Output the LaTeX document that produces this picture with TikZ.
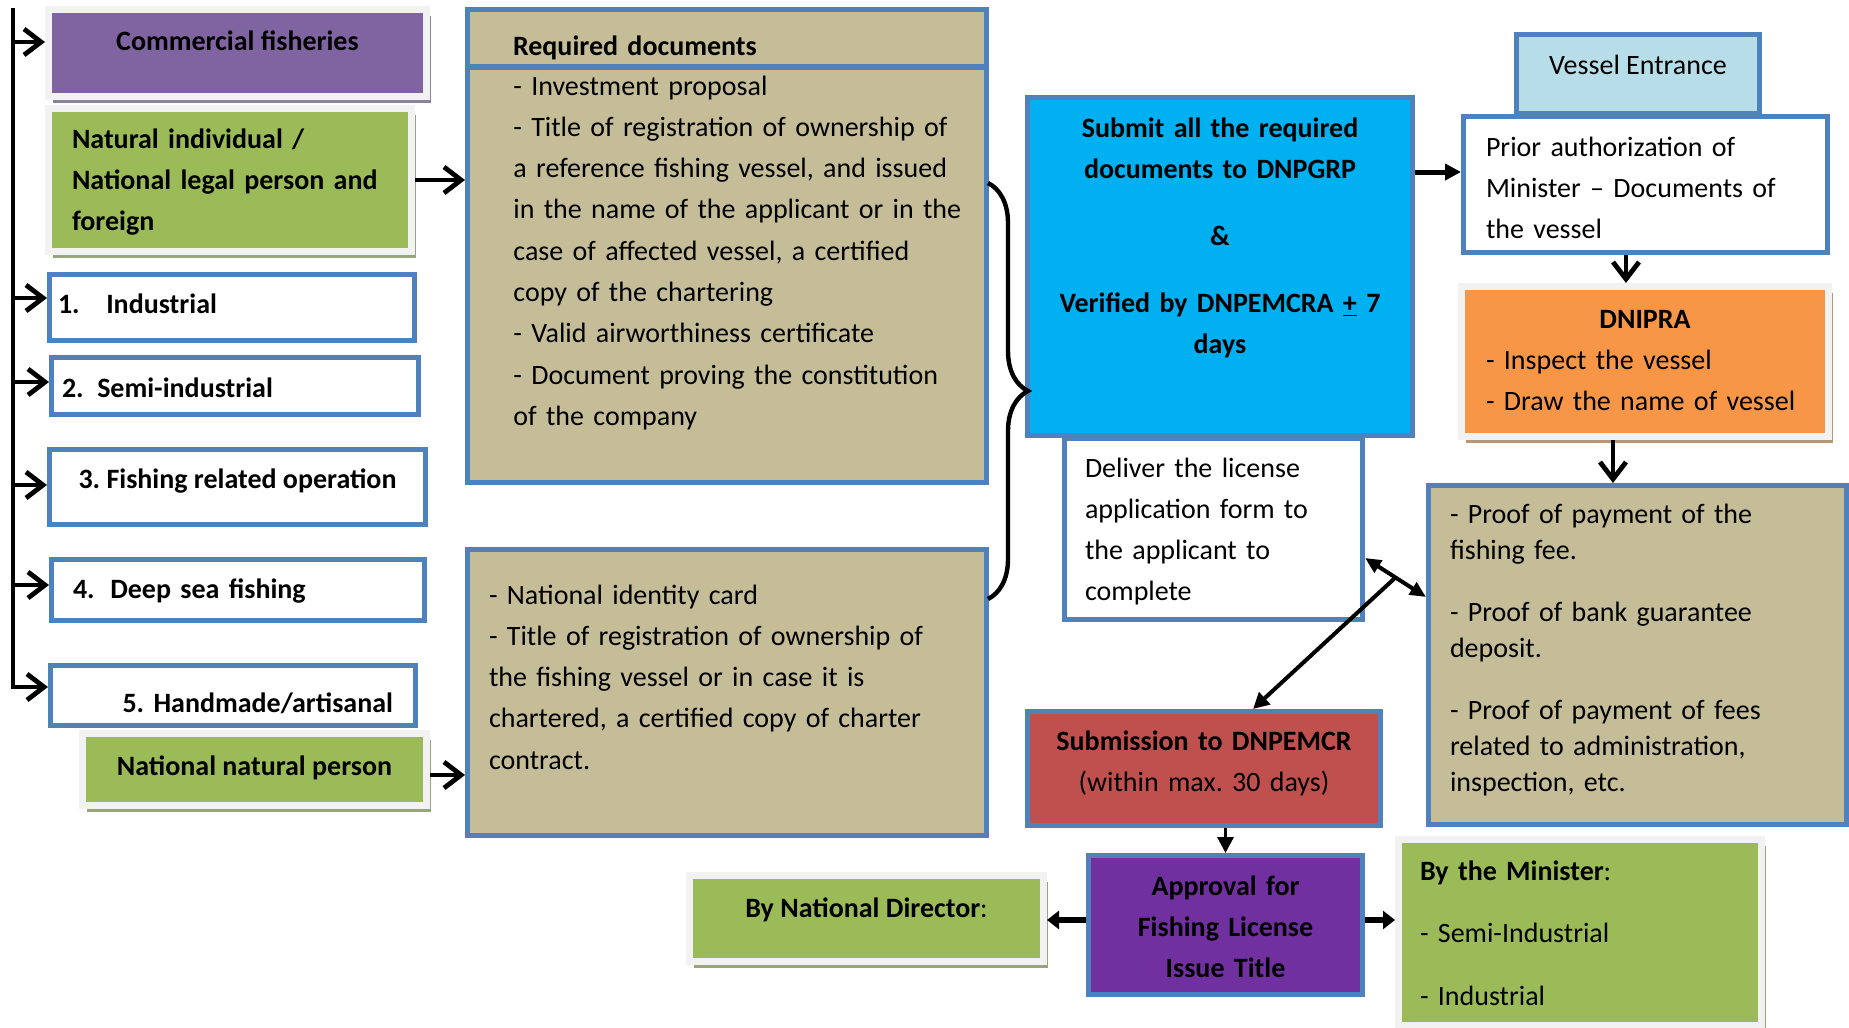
\documentclass[tikz,border=0pt]{standalone}
\usepackage{fontspec}
\setmainfont{Carlito}
\frenchspacing
\usetikzlibrary{positioning, calc, arrows.meta, shadows, decorations.pathreplacing}

\definecolor{boxblue}{HTML}{4F81BD}
\definecolor{tan}{HTML}{C4BD97}
\definecolor{cyanblue}{HTML}{00B0F0}
\definecolor{paleblue}{HTML}{B7DEE8}
\definecolor{leafgreen}{HTML}{9BBB59}
\definecolor{lilac}{HTML}{8064A2}
\definecolor{deeppurple}{HTML}{7030A0}
\definecolor{brick}{HTML}{C0504D}
\definecolor{carrot}{HTML}{F79646}
\definecolor{framegrey}{HTML}{F2F2F2}

\tikzset{
  every node/.style={font=\fontsize{14}{20.65}\selectfont},
  boldtext/.style={font=\fontsize{14}{20.65}\selectfont\bfseries},
  docbox/.style={draw=boxblue, line width=2.4pt, anchor=north west, inner ysep=0pt},
  softbox/.style={fill=#1, draw=framegrey, line width=3.5pt, anchor=north west, inner ysep=0pt,
    drop shadow={shadow xshift=2pt, shadow yshift=-3pt, fill=#1!45!gray, opacity=0.9}},
  pointer/.style={line width=2.4pt, -{Straight Barb[length=8.5pt, width=13pt]}},
  feed/.style={line width=2.5pt, -{Triangle[length=8pt, width=8pt]}},
  push/.style={line width=3pt, -{Triangle[length=6pt, width=9pt]}},
  twoway/.style={line width=2pt, {Triangle[length=8pt, width=7pt]}-{Triangle[length=8pt, width=7pt]}},
  curlybrace/.style={line width=2.2pt, decorate, decoration={brace, amplitude=20pt}}
}

\begin{document}
\begin{tikzpicture}[x=0.5pt, y=-0.5pt]
    \useasboundingbox (0,0) rectangle (1849,1028);

    %Left column
    \node[softbox=lilac, boldtext, minimum width=189pt, text height=20.25pt, text depth=23.25pt] (comm) at (45,6) {Commercial fisheries};
    \node[softbox=leafgreen, boldtext, align=left, inner xsep=11.75pt, text width=158pt, text height=19.75pt, text depth=51.75pt] (natind) at (45,105) {Natural individual /\\National legal person and\\foreign};
    \node[docbox, fill=white, boldtext, align=left, inner xsep=4.3pt, text width=174pt, text height=19.3pt, text depth=13.8pt] (ind) at (47,272) {1.\hspace{13.3pt}Industrial};
    \node[docbox, fill=white, boldtext, align=left, inner xsep=5.3pt, text width=173pt, text height=19.8pt, text depth=8.8pt] (semi) at (49,355) {2.\hspace{6.8pt}Semi-industrial};
    \node[docbox, fill=white, boldtext, minimum width=188.1pt, text height=19.3pt, text depth=18.3pt] (fish) at (47,447) {3. Fishing related operation};
    \node[docbox, fill=white, boldtext, align=left, inner xsep=10.8pt, text width=165pt, text height=19.3pt, text depth=11.3pt] (deep) at (49,557) {4.\hspace{7.8pt}Deep sea fishing};
    \node[docbox, fill=white, boldtext, align=right, inner xsep=11.3pt, text width=160pt, text height=23.3pt, text depth=6.8pt] (hand) at (48,663) {5. Handmade/artisanal};
    \node[softbox=leafgreen, boldtext, minimum width=172pt, text height=20.75pt, text depth=15.25pt] (natper) at (79,730) {National natural person};

    %Documents
    \node[docbox, fill=tan, minimum width=259.6pt, minimum height=207.6pt, inner sep=0pt] (reqbody) at (465,65) {};
    \node[docbox, fill=tan, boldtext, align=left, inner xsep=22.8pt, text width=214pt, text height=22.8pt, text depth=5.8pt] (reqhead) at (465,7) {Required documents};
    \node[align=left, text width=232pt, inner sep=0pt, anchor=base west] (reqlist) at (513,95) {- Investment proposal\\- Title of registration of ownership of\\a reference fishing vessel, and issued\\in the name of the applicant or in the\\case of affected vessel, a certified\\copy of the chartering\\- Valid airworthiness certificate\\- Document proving the constitution\\of the company};
    \node[docbox, fill=tan, align=left, inner xsep=10.8pt, text width=238pt, text height=27.3pt, text depth=115.8pt] (natdocs) at (465,547) {- National identity card\\- Title of registration of ownership of\\the fishing vessel or in case it is\\chartered, a certified copy of charter\\contract.};

    %Procedure
    \node[docbox, fill=white, align=left, inner xsep=10.3pt, text width=128.5pt, text height=19.3pt, text depth=71.3pt] (deliver) at (1062,436) {Deliver the license\\application form to\\the applicant to\\complete};
    \node[docbox, fill=cyanblue, boldtext, align=center, inner xsep=4pt, text width=184.6pt, text height=19.8pt, text depth=149.3pt] (submit) at (1025,95) {Submit all the required\\documents to DNPGRP\\[12.9pt]\&\\[12.9pt]Verified by DNPEMCRA \underline{+} 7\\days};
    \node[docbox, fill=brick, align=center, inner xsep=4pt, text width=168.6pt, text height=19.3pt, text depth=37.8pt] (subm) at (1025,709) {\textbf{Submission to DNPEMCR}\\(within max. 30 days)};
    \node[docbox, fill=deeppurple, boldtext, align=center, inner xsep=4pt, text width=129.1pt, text height=19.8pt, text depth=49.8pt] (approval) at (1086,853) {Approval for\\Fishing License\\Issue Title};
    \node[softbox=leafgreen, minimum width=177pt, text height=20.75pt, text depth=22.25pt] (director) at (686,872) {\textbf{By National Director}:};
    \node[softbox=leafgreen, align=left, inner xsep=10.75pt, text width=160pt, text height=20.25pt, text depth=72.75pt] (minister) at (1395,836) {\textbf{By the Minister}:\\[10.6pt]- Semi-Industrial\\[10.6pt]- Industrial};

    %Vessel
    \node[docbox, fill=paleblue, minimum width=121.6pt, text height=20.3pt, text depth=19.3pt] (vessel) at (1514,32) {Vessel Entrance};
    \node[docbox, fill=white, align=left, inner xsep=11.3pt, text width=159.5pt, text height=19.8pt, text depth=48.3pt] (prior) at (1461,114) {Prior authorization of\\Minister -- Documents of\\the vessel};
    \node[softbox=carrot, align=left, inner xsep=12.25pt, text width=159pt, text height=20.75pt, text depth=54.25pt] (dnipra) at (1458,283) {\makebox[\linewidth]{\textbf{DNIPRA}}\\- Inspect the vessel\\- Draw the name of vessel};
    \node[docbox, fill=tan, align=left, inner xsep=10.8pt, text width=187.5pt, text height=18.8pt, text depth=150.8pt, font=\fontsize{14}{18}\selectfont] (fees) at (1426,483) {- Proof of payment of the\\fishing fee.\\[13pt]- Proof of bank guarantee\\deposit.\\[13pt]- Proof of payment of fees\\related to administration,\\inspection, etc.};

    %Lines
    \coordinate (trunktop) at (13,8);
    \draw[pointer] (trunktop) |- ([yshift=4.25pt]hand.west);
    \draw[pointer] ([yshift=5.5pt]comm.west -| trunktop) -- ([yshift=5.5pt]comm.west);
    \draw[pointer] ([yshift=4.75pt]ind.west -| trunktop) -- ([yshift=4.75pt]ind.west);
    \draw[pointer] ([yshift=2pt]semi.west -| trunktop) -- ([yshift=2pt]semi.west);
    \draw[pointer] ([yshift=1pt]fish.west -| trunktop) -- ([yshift=1pt]fish.west);
    \draw[pointer] ([yshift=2.5pt]deep.west -| trunktop) -- ([yshift=2.5pt]deep.west);
    \draw[pointer] (natind.east) -- (natind.east -| reqbody.west);
    \draw[pointer] ([yshift=-2.75pt]natper.east) -- ([yshift=-2.75pt]natper.east -| natdocs.west);

    \coordinate (bracetop) at (988,183);
    \coordinate (bracebot) at (988,599);
    \draw[curlybrace] (bracetop) -- (bracebot);

    \draw[feed] ([yshift=6.25pt]prior.west -| submit.east) -- ([yshift=6.25pt]prior.west);
    \draw[pointer] ([xshift=-9.75pt]prior.south) -- ([xshift=-9.75pt]prior.south |- dnipra.north);
    \draw[pointer] ([xshift=-16pt]dnipra.south) -- ([xshift=-16pt]dnipra.south |- fees.north);

    \coordinate (dlv) at ([yshift=-14.5pt]deliver.east);
    \coordinate (fee) at ([yshift=29pt]fees.west);
    \draw[twoway] (dlv) -- (fee);
    \draw[feed, line width=2pt] ($(dlv)!0.5!(fee)$) -- ([xshift=24.5pt]subm.north);
    \draw[feed, line width=1.6pt] (approval.north |- subm.south) -- (approval.north);
    \draw[push] ([yshift=2.5pt]approval.west) -- ([yshift=2.5pt]approval.west -| director.east);
    \draw[push] ([yshift=2.5pt]approval.east) -- ([yshift=2.5pt]approval.east -| minister.west);
\end{tikzpicture}
\end{document}
